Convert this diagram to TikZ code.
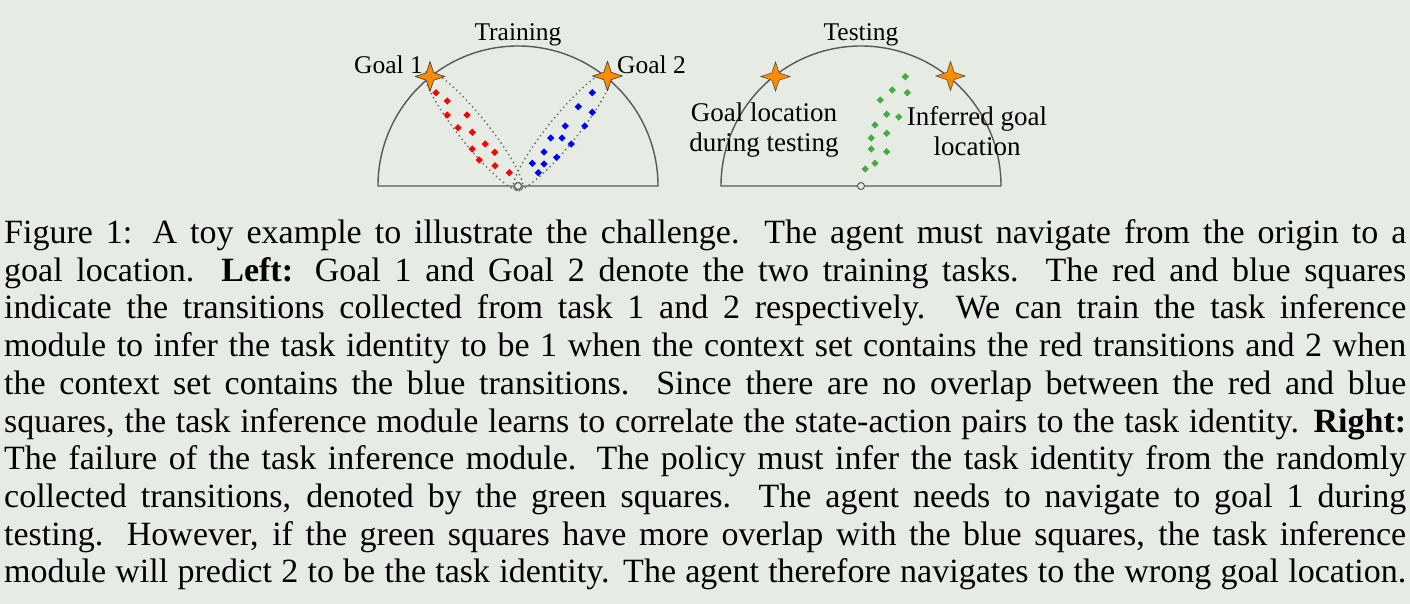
\documentclass[tikz,border=0pt]{standalone}
\usepackage{fontspec}
\setmainfont{Liberation Serif}
\usetikzlibrary{shapes.geometric,calc}
\definecolor{bg}{RGB}{230,235,227}
\definecolor{goalorange}{RGB}{255,140,0}
\definecolor{arcgray}{RGB}{88,88,88}
\definecolor{dotgray}{RGB}{95,95,95}
\definecolor{ptgreen}{RGB}{70,170,70}
\begin{document}
\begin{tikzpicture}[x=1pt,y=-1pt,
  halfplane/.style={draw=arcgray,line width=1.4pt},
  goalstar/.style={star,star points=4,star point ratio=2.8,minimum size=29pt,inner sep=0pt,fill=goalorange,draw=black!75,line width=0.5pt},
  origin/.style={circle,draw=arcgray,fill=bg,minimum size=7pt,inner sep=0pt,line width=1pt},
  region/.style={draw=dotgray,line width=1.9pt,dash pattern=on 0pt off 4.6pt,line cap=round},
  pt/.style={diamond,minimum size=7.5pt,inner sep=0pt,fill=#1},
  lbl/.style={font=\fontsize{25.5}{28}\selectfont,inner sep=0pt},
  inlbl/.style={font=\fontsize{27}{30.5}\selectfont,inner sep=0pt,align=center},
  capline/.style={anchor=base west,inner sep=0pt,font=\fontsize{34}{37.7}\selectfont}
]
\fill[bg] (0,0) rectangle (1410,604);
\useasboundingbox (0,0) rectangle (1410,604);

% ---------- Training panel ----------
\draw[halfplane] (378,186) arc[start angle=180,end angle=360,radius=140] -- cycle;
\node[origin] (o1) at (518,186) {};
\node[goalstar] (g1) at (430,76.5) {};
\node[goalstar] (g2) at (607.5,76) {};
\draw[region, rotate around={128.8:(474,131)}] (474,131) ellipse [x radius=76, y radius=14.5];
\draw[region, rotate around={50.9:(562.5,131)}] (562.5,131) ellipse [x radius=76, y radius=14.5];
\node[origin] at (o1) {};
\node[goalstar] at (g1) {};
\node[goalstar] at (g2) {};

\foreach \x/\y [count=\i] in {436/92.7,447.3/101,447.3/115,467/115,458/127.7,472.3/132.3,485.3/144,472.3/149,494.7/152.3,479.3/160,495/165.7,509.3/172.7}
  \node[pt=red] (r\i) at (\x,\y) {};
\foreach \x/\y [count=\i] in {592.3/92.7,578.3/106.7,592.3/112.3,565.3/126,584.7/126,550.7/138,562/138,571.3/144,544/152,556.7/157.3,532.3/163.3,544/164,538.3/172.7}
  \node[pt=blue] (b\i) at (\x,\y) {};

\node[lbl,anchor=base] (ttrain) at (518,40.5) {Training};
\node[lbl,anchor=base east] (tg1) at (423,73.5) {Goal 1};
\node[lbl,anchor=base west] (tg2) at (617,73.5) {Goal 2};

% ---------- Testing panel ----------
\draw[halfplane] (721,186) arc[start angle=180,end angle=360,radius=140] -- cycle;
\node[origin] (o2) at (861,186) {};
\node[goalstar] (g3) at (775.5,76.5) {};
\node[goalstar] (g4) at (950.5,76) {};
\foreach \x/\y [count=\i] in {905.3/76.7,892.3/90,907.3/92.7,880.3/100,886.7/114.3,898.7/117,875/125,886.7/133.3,871.3/138,871.3/149,886.7/151.7,875/163.3,865.3/169}
  \node[pt=ptgreen] (n\i) at (\x,\y) {};
\node[lbl,anchor=base] (ttest) at (861,40.5) {Testing};
\node[inlbl,anchor=base] (tloc) at (764,151.7) {Goal location\\during testing};
\node[inlbl,anchor=base] (tinf) at (977,156) {Inferred goal\\location};

% ---------- Caption ----------
\node[capline] (c1) at (4,243.5) {\makebox[1402pt][s]{Figure 1: A toy example to illustrate the challenge. The agent must navigate from the origin to a}};
\node[capline] (c2) at (4,281.2) {\makebox[1402pt][s]{goal location. \textbf{Left:} Goal 1 and Goal 2 denote the two training tasks. The red and blue squares}};
\node[capline] (c3) at (4,318.9) {\makebox[1402pt][s]{indicate the transitions collected from task 1 and 2 respectively. We can train the task inference}};
\node[capline] (c4) at (4,356.6) {\makebox[1402pt][s]{module to infer the task identity to be 1 when the context set contains the red transitions and 2 when}};
\node[capline] (c5) at (4,394.3) {\makebox[1402pt][s]{the context set contains the blue transitions. Since there are no overlap between the red and blue}};
\node[capline] (c6) at (4,432.0) {\makebox[1402pt][s]{squares, the task inference module learns to correlate the state-action pairs to the task identity. \textbf{Right:}}};
\node[capline] (c7) at (4,469.7) {\makebox[1402pt][s]{The failure of the task inference module. The policy must infer the task identity from the randomly}};
\node[capline] (c8) at (4,507.4) {\makebox[1402pt][s]{collected transitions, denoted by the green squares. The agent needs to navigate to goal 1 during}};
\node[capline] (c9) at (4,545.1) {\makebox[1402pt][s]{testing. However, if the green squares have more overlap with the blue squares, the task inference}};
\node[capline] (c10) at (4,582.8) {\makebox[1402pt][s]{module will predict 2 to be the task identity. The agent therefore navigates to the wrong goal location.}};
\end{tikzpicture}
\end{document}
